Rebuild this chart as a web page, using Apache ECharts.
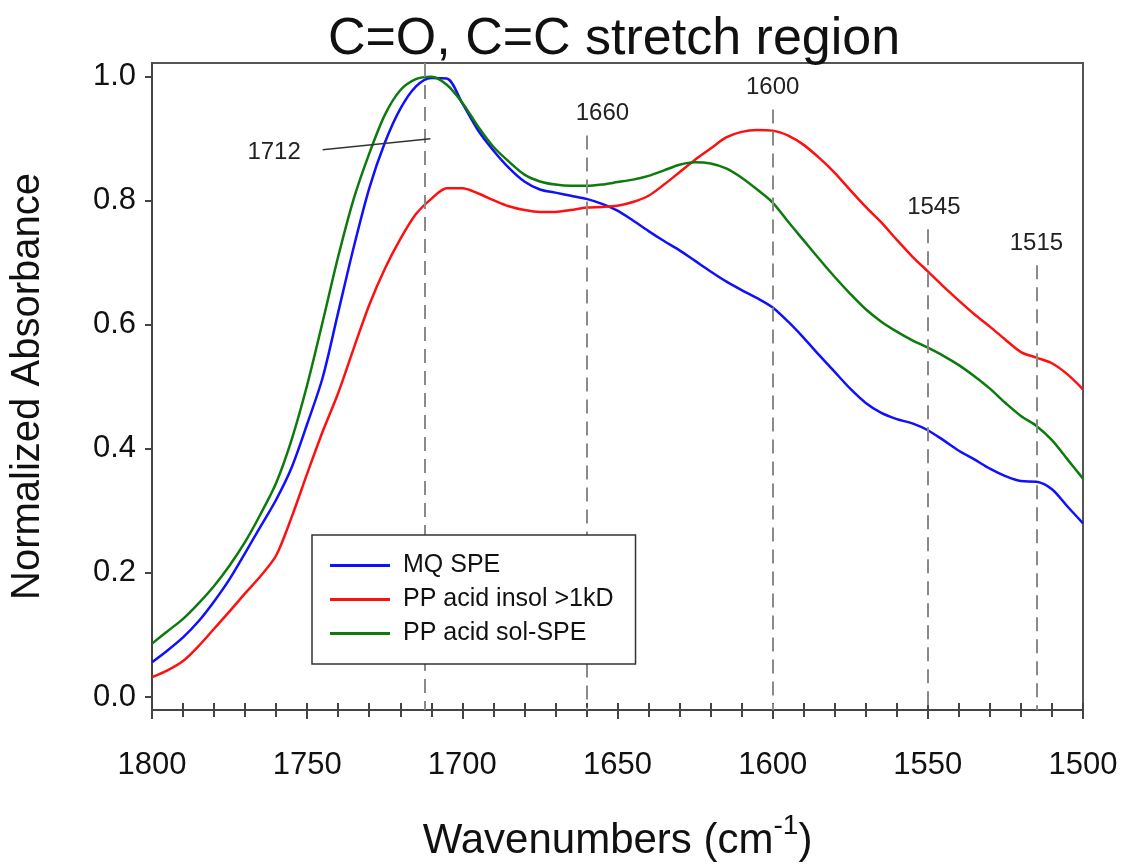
<!DOCTYPE html>
<html lang="en">
<head>
    <meta charset="utf-8">
    <title>C=O, C=C stretch region</title>
    <script type="text/javascript" src="https://cdn.jsdelivr.net/npm/echarts@6/dist/echarts.min.js"></script>
    <style>
        html, body { margin: 0; padding: 0; background: #fff; }
        #main { width: 1129px; height: 867px; }
    </style>
</head>
<body>
<div id="main"></div>
<script>
    // wavenumbers (cm-1), every 5 from 1800 down to 1500
    var wavenumbers = [1800, 1795, 1790, 1785, 1780, 1775, 1770, 1765, 1760, 1755,
        1750, 1745, 1740, 1735, 1730, 1725, 1720, 1715, 1710, 1705,
        1700, 1695, 1690, 1685, 1680, 1675, 1670, 1665, 1660, 1655,
        1650, 1645, 1640, 1635, 1630, 1625, 1620, 1615, 1610, 1605,
        1600, 1595, 1590, 1585, 1580, 1575, 1570, 1565, 1560, 1555,
        1550, 1545, 1540, 1535, 1530, 1525, 1520, 1515, 1510, 1505, 1500];

    // values
    var mqSpe = [0.056, 0.075, 0.096, 0.122, 0.154, 0.19, 0.232, 0.275, 0.318, 0.37,
        0.44, 0.515, 0.62, 0.725, 0.82, 0.893, 0.948, 0.984, 0.998, 0.997,
        0.957, 0.914, 0.881, 0.853, 0.831, 0.818, 0.813, 0.808, 0.803, 0.795,
        0.784, 0.768, 0.751, 0.735, 0.72, 0.703, 0.686, 0.67, 0.656, 0.643,
        0.628, 0.605, 0.579, 0.551, 0.524, 0.497, 0.474, 0.458, 0.448, 0.441,
        0.43, 0.414, 0.397, 0.383, 0.368, 0.356, 0.348, 0.347, 0.335, 0.307, 0.28];

    var ppAcidInsol = [0.032, 0.043, 0.058, 0.082, 0.11, 0.138, 0.167, 0.195, 0.228, 0.29,
        0.36, 0.428, 0.49, 0.562, 0.632, 0.69, 0.738, 0.778, 0.803, 0.82,
        0.82, 0.812, 0.801, 0.791, 0.785, 0.782, 0.782, 0.785, 0.789, 0.79,
        0.792, 0.798, 0.808, 0.826, 0.846, 0.866, 0.884, 0.902, 0.911, 0.914,
        0.913, 0.905, 0.89, 0.869, 0.845, 0.817, 0.79, 0.765, 0.737, 0.71,
        0.686, 0.662, 0.639, 0.617, 0.597, 0.576, 0.556, 0.547, 0.538, 0.52, 0.496];

    var ppAcidSol = [0.086, 0.106, 0.126, 0.151, 0.179, 0.212, 0.25, 0.295, 0.345, 0.415,
        0.503, 0.605, 0.71, 0.803, 0.876, 0.938, 0.978, 0.996, 1.0, 0.987,
        0.958, 0.92, 0.887, 0.863, 0.842, 0.831, 0.826, 0.824, 0.824, 0.826,
        0.83, 0.834, 0.84, 0.849, 0.858, 0.862, 0.86, 0.852, 0.837, 0.818,
        0.797, 0.766, 0.736, 0.706, 0.677, 0.65, 0.625, 0.605, 0.589, 0.575,
        0.563, 0.55, 0.535, 0.517, 0.497, 0.474, 0.453, 0.437, 0.414, 0.383, 0.352];

    var seriesNames = ['MQ SPE', 'PP acid insol >1kD', 'PP acid sol-SPE'];
    var seriesColors = ['#1010ff', '#ff1010', '#0d7a0d'];

    // dashed reference lines: position, label, top of the dash (absorbance)
    var peakPositions = [1712, 1660, 1600, 1550, 1515];
    var peakLabels = ['', '1660', '1600', '1545', '1515'];
    var peakTops = [1.022, 0.905, 0.947, 0.754, 0.696];
    var peakLabelShift = [0, 16, 0, 6, 0];

    var yTicks = [0, 0.2, 0.4, 0.6, 0.8, 1.0];

    var fontFam = 'Liberation Sans, Arial, sans-serif';

    function pairs(ys) {
        return wavenumbers.map(function (x, i) {
            return [x, ys[i]];
        });
    }

    function draw() {
        var myChart = echarts.init(document.getElementById('main'));

        var dashLines = peakPositions.map(function (x, i) {
            return [
                {coord: [x, peakTops[i]],
                    label: {show: peakLabels[i] !== '', formatter: peakLabels[i], offset: [peakLabelShift[i], 0]}},
                {coord: [x, -0.021]}
            ];
        });
        // leader line for the 1712 label
        dashLines.push([
            {coord: [1745, 0.882], label: {show: true, formatter: '1712', position: 'start', distance: 22},
                lineStyle: {type: 'solid', color: '#333', width: 1.5}},
            {coord: [1710.3, 0.9]}
        ]);

        var dataSeries = [mqSpe, ppAcidInsol, ppAcidSol].map(function (ys, i) {
            return {
                name: seriesNames[i],
                type: 'line',
                data: pairs(ys),
                smooth: 0.3,
                showSymbol: false,
                symbol: 'none',
                lineStyle: {width: 2.5, color: seriesColors[i]},
                itemStyle: {color: seriesColors[i]},
                z: 3
            };
        });

        dataSeries.push({
            name: 'refs',
            type: 'line',
            data: [],
            silent: true,
            markLine: {
                silent: true,
                symbol: 'none',
                animation: false,
                lineStyle: {type: [14, 8], color: '#8a8a8a', width: 2},
                label: {
                    position: 'start',
                    distance: 10,
                    color: '#222',
                    fontSize: 24,
                    fontFamily: fontFam
                },
                data: dashLines
            },
            z: 2
        });

        var option = {
            animation: false,
            backgroundColor: '#fff',
            title: {
                text: 'C=O, C=C stretch region',
                left: 609,
                top: 9,
                textAlign: 'center',
                textStyle: {
                    fontSize: 52,
                    fontWeight: 'normal',
                    color: '#111',
                    fontFamily: fontFam
                }
            },
            legend: {
                data: seriesNames,
                orient: 'vertical',
                left: 312,
                top: 535,
                zlevel: 1,
                z: 10,
                padding: [18, 22, 18, 18],
                itemGap: 9,
                itemWidth: 60,
                itemHeight: 3,
                icon: 'rect',
                borderColor: '#333',
                borderWidth: 1.5,
                backgroundColor: '#fff',
                textStyle: {
                    fontSize: 25,
                    color: '#111',
                    padding: [0, 0, 0, 8],
                    fontFamily: fontFam
                }
            },
            grid: {
                left: 152,
                right: 46,
                top: 63,
                bottom: 152,
                show: true,
                borderColor: '#555',
                borderWidth: 2,
                containLabel: false
            },
            xAxis: [
                {
                    type: 'value',
                    min: 1500,
                    max: 1800,
                    interval: 50,
                    inverse: true,
                    name: '{a|Wavenumbers (cm}{s|-1}{a|)}',
                    nameLocation: 'middle',
                    nameGap: 102,
                    nameTextStyle: {
                        rich: {
                            a: {fontSize: 42, color: '#111', fontFamily: fontFam,
                                lineHeight: 50, verticalAlign: 'bottom'},
                            s: {fontSize: 28, color: '#111', fontFamily: fontFam,
                                lineHeight: 50, verticalAlign: 'top', padding: [0, 0, 16, 0]}
                        }
                    },
                    axisLine: {show: true, onZero: false, lineStyle: {color: '#444', width: 2}},
                    axisTick: {show: true, length: 9, lineStyle: {color: '#444', width: 2}},
                    minorTick: {show: true, splitNumber: 5, length: 7, lineStyle: {color: '#444', width: 2}},
                    axisLabel: {
                        fontSize: 31,
                        color: '#111',
                        margin: 40,
                        fontFamily: fontFam,
                        formatter: function (v) {
                            return String(v);
                        }
                    },
                    splitLine: {show: false}
                },
                {
                    // inward half of the crossing ticks
                    type: 'value',
                    min: 1500,
                    max: 1800,
                    interval: 50,
                    inverse: true,
                    position: 'bottom',
                    axisLine: {show: false, onZero: false},
                    axisTick: {show: true, inside: true, length: 7, lineStyle: {color: '#444', width: 2}},
                    minorTick: {show: true, splitNumber: 5, length: 7, lineStyle: {color: '#444', width: 2}},
                    axisLabel: {show: false},
                    splitLine: {show: false}
                }
            ],
            yAxis: {
                type: 'value',
                min: -0.021,
                max: 1.022,
                name: 'Normalized Absorbance',
                nameLocation: 'middle',
                nameGap: 104,
                nameTextStyle: {
                    fontSize: 40,
                    color: '#111',
                    fontFamily: fontFam
                },
                axisLine: {show: true, onZero: false, lineStyle: {color: '#444', width: 2}},
                axisTick: {show: true, length: 7, customValues: yTicks, lineStyle: {color: '#444', width: 2}},
                axisLabel: {
                    customValues: yTicks,
                    fontSize: 31,
                    color: '#111',
                    margin: 16,
                    fontFamily: fontFam,
                    formatter: function (v) {
                        return v.toFixed(1);
                    }
                },
                splitLine: {show: false}
            },
            series: dataSeries
        };

        myChart.setOption(option);
    }

    draw();
</script>
</body>
</html>
